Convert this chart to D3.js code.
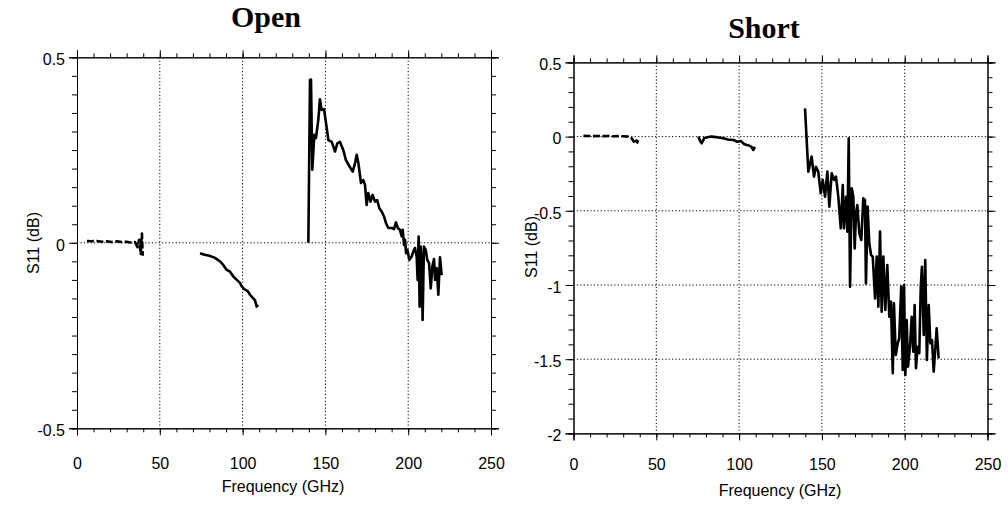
<!DOCTYPE html>
<html>
<head>
<meta charset="utf-8">
<script src="https://cdn.jsdelivr.net/npm/d3@7"></script>
<style>
  html, body { margin: 0; padding: 0; background: #fff; }
  svg { display: block; }
</style>
</head>
<body>
<svg id="chart" width="1008" height="508"></svg>
<script>
// Frequency axis ticks (GHz)
const freqTicks = [0, 50, 100, 150, 200, 250];

// ---- Open termination: S11 (dB) ----
const openLowF  = [6, 9, 12, 15, 18, 21, 24, 27, 30, 33, 35, 36.5, 37.5, 38.5, 39.2, 39.7];
const openLowV  = [0.005, 0.004, 0.005, 0.003, 0.004, 0.002, 0.004, 0.002, 0.003, 0.0, 0.002, -0.012, 0.008, -0.03, 0.025, -0.035];
const openMidF  = [74.3, 77, 80, 83, 86.4, 88, 90.4, 92.4, 94.4, 96.5, 98.4, 99.4, 101, 103, 104.5, 106, 107.5, 108.5, 109.3];
const openMidV  = [-0.028, -0.032, -0.035, -0.04, -0.05, -0.058, -0.073, -0.078, -0.091, -0.1, -0.108, -0.117, -0.125, -0.13, -0.14, -0.148, -0.155, -0.172, -0.167];
const openHighF = [139.7, 140.7, 141.3, 142.1, 143.3, 144.3, 145.7, 146.7, 147.7, 149.2, 150.4, 151.8, 153.8, 155.8, 157.2, 158.8, 160.8, 162.4, 164.4, 166.5, 167.9, 168.9, 169.9, 171.5, 172.9, 173.9, 174.9, 175.9, 177.3, 178.5, 180, 181.3, 182.6, 184, 185.4, 186.6, 188, 190, 191.4, 192.6, 193.7, 195, 196.1, 196.7, 197.5, 198.1, 198.7, 199.5, 200.7, 202.1, 203.1, 204.1, 205.1, 205.7, 206.3, 206.9, 207.5, 208.1, 208.7, 209.5, 210.6, 211.5, 212.6, 213.6, 214.6, 215.6, 216.2, 217.2, 218.2, 219.2, 220.2];
const openHighV = [0.0, 0.439, 0.44, 0.197, 0.291, 0.282, 0.331, 0.387, 0.358, 0.36, 0.322, 0.277, 0.272, 0.246, 0.268, 0.272, 0.25, 0.223, 0.207, 0.192, 0.215, 0.237, 0.215, 0.161, 0.169, 0.156, 0.102, 0.134, 0.111, 0.129, 0.111, 0.115, 0.093, 0.084, 0.071, 0.053, 0.04, 0.04, 0.037, 0.055, 0.04, 0.035, 0.017, 0.035, -0.006, 0.008, -0.028, -0.019, -0.046, -0.037, -0.023, -0.014, -0.037, -0.1, 0.017, -0.172, -0.01, -0.046, -0.208, -0.01, -0.019, -0.046, -0.055, -0.123, -0.064, -0.044, -0.1, -0.068, -0.14, -0.039, -0.087];

// ---- Short termination: S11 (dB) ----
const shortLowF  = [6, 9, 12, 15, 18, 21, 24, 27, 30, 33, 35, 36.5, 37.5, 38.5, 39.1];
const shortLowV  = [0.005, 0.004, 0.003, 0.004, 0.003, 0.004, 0.002, 0.003, 0.002, 0.0, -0.01, -0.035, -0.015, -0.04, -0.025];
const shortMidF  = [75.4, 76.5, 77.4, 79, 81, 83, 85, 88.5, 91, 93, 96.5, 99, 101, 103, 104.6, 106, 107.5, 108.6, 109.5];
const shortMidV  = [0.0, -0.03, -0.045, -0.01, -0.005, 0.0, -0.002, -0.008, -0.012, -0.02, -0.023, -0.035, -0.03, -0.05, -0.057, -0.06, -0.07, -0.09, -0.068];
const shortHighF = [139.8, 141.8, 143.8, 145.2, 146.4, 147.8, 149.3, 150.5, 151.9, 153.3, 154.5, 155.9, 157.3, 158.5, 159.9, 161.4, 162.6, 163.3, 164.6, 165.4, 166.2, 167, 168, 169, 169.8, 170.6, 171.4, 172.6, 173.8, 175, 176, 176.6, 177.6, 178.6, 179.7, 180.7, 182.1, 183.1, 184.1, 185.1, 186.1, 187.1, 188.3, 189.5, 190.7, 191.7, 192.8, 193.5, 194.6, 195.8, 196.7, 197.9, 198.8, 199.6, 200.4, 201.2, 202, 203.2, 204.2, 205.2, 206, 206.8, 207.8, 208.8, 209.7, 210.4, 211.5, 212.4, 213.4, 214.5, 215.5, 216.5, 217.5, 218.5, 219.3, 220.5];
const shortHighV = [0.19, -0.236, -0.135, -0.27, -0.203, -0.236, -0.382, -0.292, -0.405, -0.236, -0.472, -0.247, -0.292, -0.27, -0.405, -0.618, -0.326, -0.618, -0.405, -0.64, -0.011, -1.011, -0.348, -0.405, -0.753, -0.517, -0.461, -0.652, -0.697, -0.416, -0.427, -0.989, -0.472, -0.719, -0.798, -0.809, -1.09, -0.809, -1.146, -0.64, -1.18, -0.809, -1.168, -0.865, -1.214, -1.112, -1.595, -1.123, -1.472, -1.393, -1.359, -1.011, -1.573, -1.0, -1.606, -1.236, -1.55, -1.416, -1.214, -1.45, -1.135, -1.561, -1.416, -1.46, -1.011, -0.877, -1.337, -0.832, -1.505, -1.135, -1.393, -1.371, -1.584, -1.427, -1.292, -1.494];

// Y tick labels
const openYTicks  = [-0.5, 0, 0.5];
const shortYTicks = [-2, -1.5, -1, -0.5, 0, 0.5];

const svg = d3.select("#chart");
const sans = "'Liberation Sans', Arial, sans-serif";
const serif = "'Liberation Serif', 'Times New Roman', serif";

// plain hyphen-minus for negative tick values
function fmt(v) { return String(v); }

function drawPanel(cfg) {
  const { left, right, top, bottom } = cfg.box;
  const x = d3.scaleLinear().domain([0, 250]).range([left, right]);
  const y = d3.scaleLinear().domain(cfg.yDomain).range([bottom, top]);
  const g = svg.append("g");

  // grid lines (dotted)
  const grid = g.append("g").attr("stroke", "#000").attr("stroke-width", 1)
    .attr("stroke-dasharray", "1.2,2.2");
  freqTicks.filter(d => d > 0 && d < 250).forEach(d => {
    grid.append("line").attr("x1", x(d)).attr("x2", x(d)).attr("y1", top).attr("y2", bottom);
  });
  cfg.yGrid.forEach(d => {
    grid.append("line").attr("x1", left).attr("x2", right).attr("y1", y(d)).attr("y2", y(d));
  });

  // axes on all four sides, ticks pointing outward
  const minorX = d3.range(0, 251, 10);
  const minorY = d3.range(cfg.yDomain[0], cfg.yDomain[1] + 1e-9, cfg.yMinor).map(v => +v.toFixed(3));

  function styleAxis(sel) {
    sel.attr("font-size", 16).attr("font-family", sans);
    sel.selectAll("path").attr("stroke", "#000").attr("stroke-width", 1);
    sel.selectAll("line").attr("stroke", "#000").attr("stroke-width", 1);
    sel.selectAll("text").attr("fill", "#000");
  }

  // bottom
  styleAxis(g.append("g").attr("transform", `translate(0,${bottom})`)
    .call(d3.axisBottom(x).tickValues(minorX).tickSize(4).tickFormat("")));
  styleAxis(g.append("g").attr("transform", `translate(0,${bottom})`)
    .call(d3.axisBottom(x).tickValues(freqTicks).tickSize(7).tickPadding(cfg.xPad).tickFormat(fmt)));
  // top
  styleAxis(g.append("g").attr("transform", `translate(0,${top})`)
    .call(d3.axisTop(x).tickValues(minorX).tickSize(4).tickFormat("")));
  styleAxis(g.append("g").attr("transform", `translate(0,${top})`)
    .call(d3.axisTop(x).tickValues(freqTicks).tickSize(7).tickFormat("")));
  // left
  styleAxis(g.append("g").attr("transform", `translate(${left},0)`)
    .call(d3.axisLeft(y).tickValues(minorY).tickSize(5).tickFormat("")));
  const lMajor = g.append("g").attr("transform", `translate(${left},0)`)
    .call(d3.axisLeft(y).tickValues(cfg.yTicks).tickSize(8).tickPadding(4).tickFormat(fmt));
  styleAxis(lMajor);
  lMajor.selectAll("text").attr("dy", "0.45em");
  // right
  styleAxis(g.append("g").attr("transform", `translate(${right},0)`)
    .call(d3.axisRight(y).tickValues(minorY).tickSize(5).tickFormat("")));
  styleAxis(g.append("g").attr("transform", `translate(${right},0)`)
    .call(d3.axisRight(y).tickValues(cfg.yTicks).tickSize(8).tickFormat("")));

  // data traces
  const line = d3.line().x(d => x(d[0])).y(d => y(d[1]));
  cfg.series.forEach(s => {
    g.append("path")
      .datum(d3.zip(s.f, s.v))
      .attr("d", line)
      .attr("fill", "none")
      .attr("stroke", "#000")
      .attr("stroke-width", 2.6)
      .attr("stroke-linejoin", "round")
      .attr("stroke-dasharray", s.dash || null);
  });

  // titles
  g.append("text")
    .attr("x", cfg.titleX).attr("y", cfg.titleY)
    .attr("text-anchor", "middle")
    .attr("font-family", serif).attr("font-weight", "bold").attr("font-size", 30)
    .text(cfg.title);
  g.append("text")
    .attr("x", cfg.xLabelX).attr("y", cfg.xLabelY)
    .attr("text-anchor", "middle")
    .attr("font-family", sans).attr("font-size", 16)
    .text("Frequency (GHz)");
  g.append("text")
    .attr("transform", `translate(${cfg.yLabelX},${cfg.yLabelCY}) rotate(-90)`)
    .attr("text-anchor", "middle")
    .attr("font-family", sans).attr("font-size", 16)
    .text("S11 (dB)");
}

drawPanel({
  box: { left: 77, right: 491, top: 57.3, bottom: 428.3 },
  yDomain: [-0.5, 0.5], yTicks: openYTicks, yGrid: [0], yMinor: 0.05,
  title: "Open", titleX: 266, titleY: 27,
  xPad: 22, xLabelX: 283, xLabelY: 492, yLabelX: 39, yLabelCY: 243,
  series: [
    { f: openLowF, v: openLowV, dash: "7,2.5" },
    { f: openMidF, v: openMidV },
    { f: openHighF, v: openHighV }
  ]
});

drawPanel({
  box: { left: 573.5, right: 987.5, top: 62.4, bottom: 433.4 },
  yDomain: [-2, 0.5], yTicks: shortYTicks, yGrid: [0, -0.5, -1, -1.5], yMinor: 0.1,
  title: "Short", titleX: 764, titleY: 38,
  xPad: 18, xLabelX: 780, xLabelY: 496, yLabelX: 537, yLabelCY: 247,
  series: [
    { f: shortLowF, v: shortLowV, dash: "7,2.5" },
    { f: shortMidF, v: shortMidV },
    { f: shortHighF, v: shortHighV }
  ]
});
</script>
</body>
</html>
